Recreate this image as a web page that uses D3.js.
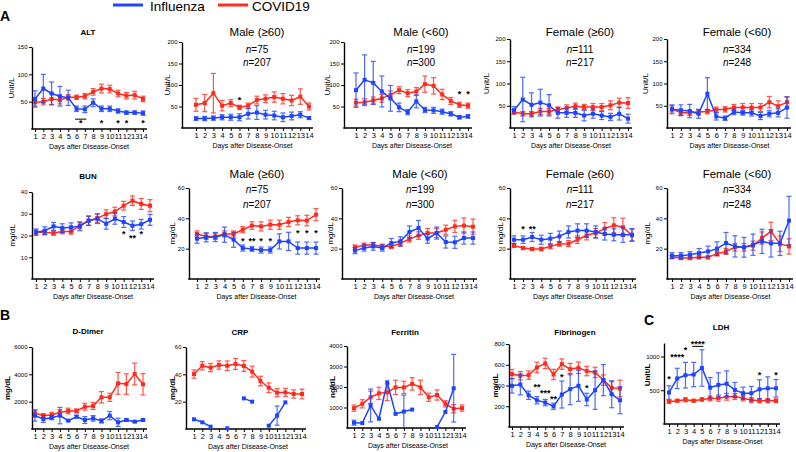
<!DOCTYPE html>
<html>
<head>
<meta charset="utf-8">
<script src="https://cdn.jsdelivr.net/npm/d3@7"></script>
<style>
  body { margin: 0; background: #fff; }
  text { font-family: "Liberation Sans", Arial, sans-serif; }
</style>
</head>
<body>
<div id="chart"></div>
<script>
var days = d3.range(1, 15);
var seriesNames = ["Influenza", "COVID19"];

/* ALT (Unit/L) */
var altFlu = [55, 74, 65, 60, 57, 37, 36, 48, 37, 37, 33, 30, 30, 29];
var altFluErr = [15, 26, 21, 18, 14, 5, 6, 7, 5, 5, 4, 3, 3, 4];
var altCov = [49, 50, 55, 53, 58, 58, 60, 68, 74, 73, 65, 61, 62, 55];
var altCovErr = [7, 6, 10, 7, 5, 4, 5, 6, 8, 7, 6, 6, 7, 5];
var altStars = [[6.5, "*", 9], [9, "*", 9], [11, "*", 9], [12, "*", 9], [14, "*", 9]];
var altBars = [[6, 7, 18]];

var altM60Flu = [22, 22, 23, 25, 25, 25, 33, 36, 31, 29, 25, 28, 31, 23];
var altM60FluErr = [4, 5, 5, 6, 7, 8, 12, 16, 10, 10, 10, 9, 7, 3];
var altM60Cov = [54, 58, 81, 52, 58, 48, 52, 65, 68, 72, 68, 64, 73, 50];
var altM60CovErr = [15, 20, 46, 12, 8, 5, 6, 9, 9, 12, 12, 12, 18, 8];
var altM60Stars = [[6, "*", 64]];

var altMyFlu = [88, 112, 105, 85, 69, 48, 37, 62, 42, 41, 38, 33, 25, 27];
var altMyFluErr = [40, 58, 50, 36, 30, 10, 6, 15, 6, 7, 6, 5, 4, 4];
var altMyCov = [59, 60, 64, 69, 77, 88, 81, 85, 102, 98, 78, 63, 54, 52];
var altMyCovErr = [8, 8, 8, 9, 9, 8, 8, 9, 19, 19, 12, 8, 6, 6];
var altMyStars = [[13, "*", 77], [14, "*", 77]];

var altF60Flu = [40, 64, 52, 57, 51, 34, 34, 34, 28, 32, 28, 25, 32, 21];
var altF60FluErr = [8, 50, 27, 30, 24, 12, 10, 10, 12, 10, 9, 8, 14, 10];
var altF60Cov = [36, 32, 32, 37, 37, 41, 45, 49, 47, 47, 47, 51, 57, 56];
var altF60CovErr = [5, 5, 5, 7, 7, 6, 7, 7, 6, 8, 8, 10, 10, 12];

var altFyFlu = [42, 40, 38, 32, 77, 26, 22, 36, 34, 34, 27, 32, 34, 46];
var altFyFluErr = [10, 12, 15, 10, 36, 8, 5, 6, 5, 7, 8, 7, 9, 24];
var altFyCov = [43, 34, 34, 36, 37, 41, 42, 46, 46, 46, 46, 58, 49, 58];
var altFyCovErr = [7, 6, 6, 5, 5, 6, 6, 7, 9, 9, 9, 13, 12, 12];

/* BUN (mg/dL) */
var bunFlu = [21.5, 22.2, 24.2, 23.4, 23.8, 24.2, 26.8, 27.7, 25.4, 27.7, 26.2, 24.5, 25.2, 27.2];
var bunFluErr = [1.5, 1.8, 1.8, 2, 2, 2, 2.2, 2.2, 2.5, 2.5, 2.5, 2.2, 2.2, 2.5];
var bunCov = [21.5, 21.4, 21.1, 21.8, 21.8, 24.6, 26.8, 28, 29.8, 31, 33.7, 36, 34.5, 33.7];
var bunCovErr = [1, 1, 1, 1, 1.2, 1.5, 2, 2, 2, 2, 2, 2.2, 2.5, 2.8];
var bunStars = [[11, "*", 20.5], [12, "**", 18.7], [13, "*", 20.5]];

var bunM60Flu = [26.6, 27.5, 27.7, 29.2, 25.9, 20.4, 19.8, 19.1, 19.1, 24.8, 24.8, 20.4, 20.4, 20.4];
var bunM60FluErr = [3, 3, 3, 5, 5, 2, 1.5, 2, 2, 5, 6, 4, 4, 4];
var bunM60Cov = [29.7, 28.1, 28.1, 29.7, 29.7, 32.5, 35.2, 34.7, 35.8, 35.8, 37.6, 38.7, 38.5, 42.4];
var bunM60CovErr = [2, 2, 2, 2, 2, 2, 2.5, 3, 3, 3, 3, 3, 3.5, 4];
var bunM60Stars = [[6, "*", 24.4], [7, "**", 24.4], [8, "*", 24.4], [9, "*", 24.4],
                   [12, "*", 29.7], [13, "*", 29.7], [14, "*", 29.7]];

var bunMyFlu = [18.7, 20.4, 21.5, 20.4, 23.7, 24.8, 31, 33.6, 26.6, 30.3, 24.4, 24.2, 27, 27];
var bunMyFluErr = [2, 2, 2.5, 2, 3, 3, 4, 5, 3, 4, 4, 4, 4, 4];
var bunMyCov = [20.9, 22.2, 22.6, 21.5, 21.5, 23.5, 26.4, 28.6, 30.3, 30.3, 32.5, 34.7, 35.2, 34.5];
var bunMyCovErr = [1.5, 1.5, 1.5, 1.5, 1.5, 2, 2, 2.5, 3, 3, 3, 4, 5, 5];

var bunF60Flu = [25.9, 25.9, 27.7, 25.9, 26.6, 28.1, 31, 31.9, 31.9, 31, 29.7, 29.2, 29.2, 29.2];
var bunF60FluErr = [2.5, 2.5, 3, 3, 3.5, 3.5, 4, 4.5, 4.5, 4, 4, 4, 5, 4];
var bunF60Cov = [22, 20.4, 19.8, 19.8, 21.5, 23.1, 23.3, 25.9, 28.8, 30.3, 33.2, 35.4, 34.1, 28.8];
var bunF60CovErr = [1.2, 1, 1, 1.2, 1.5, 1.5, 2, 2.5, 3, 3, 4, 5, 6, 4];
var bunF60Stars = [[2, "*", 32.3], [3, "**", 32.3]];

var bunFyFlu = [15.4, 15.4, 16, 17.1, 18.2, 20, 23.7, 21.5, 20.9, 22.6, 24.8, 23.5, 23.5, 38.5];
var bunFyFluErr = [2, 2, 2, 3, 3.5, 4.5, 7, 7, 6.5, 7, 8, 9, 8, 16];
var bunFyCov = [14.5, 13.8, 13.8, 14.3, 14.3, 16.7, 18.2, 20.9, 20.9, 22, 27, 31.4, 23.3, 21.5];
var bunFyCovErr = [1, 1, 1, 1, 1, 1.5, 2, 2.5, 2.5, 3, 4, 6, 5, 5];

/* B: coagulation / inflammation */
var ddFlu = [980, 730, 830, 980, 610, 900, 660, 780, 590, 980, 490, 660, 540, 660];
var ddFluErr = [400, 250, 150, 600, 50, 100, 250, 200, 150, 300, 300, 100, 50, 80];
var ddCov = [1150, 980, 1020, 1220, 1320, 1320, 1630, 1680, 2320, 2320, 3340, 3290, 4020, 3270];
var ddCovErr = [250, 150, 200, 200, 200, 150, 250, 250, 420, 300, 800, 750, 800, 780];

var crpFlu = [7.1, 4.9, 1.7, null, 0.5, null, 22.4, 20, null, 2.4, 9.8, 19.5, null, null];
var crpFluErr = [0, 0, 0, null, 0, null, 0, 0, null, 0, 7, 0, null, null];
var crpCov = [40.2, 46.3, 44.9, 46.8, 46.3, 47.6, 46.1, 42, 35.1, 30.2, 26.6, 26.8, 25.6, 25.6];
var crpCovErr = [3, 3, 3, 3, 3.5, 4, 4, 4, 3.5, 3.5, 3, 3, 3, 3.5];

var ferFlu = [260, 240, 1100, 450, 2230, 690, 800, 900, null, null, 50, 780, 1940, null];
var ferFluErr = [120, 0, 800, 0, 0, 0, 800, 0, null, null, 0, 0, 1650, null];
var ferCov = [970, 1180, 1500, 1690, 1740, 1980, 1980, 2150, 1980, 1500, 1610, 1180, 940, 970];
var ferCovErr = [150, 200, 300, 300, 400, 350, 300, 300, 350, 200, 250, 150, 200, 150];

var fibFlu = [397, 410, 306, 258, 235, 200, 313, 365, 397, 265, 355, 452, 316, 258];
var fibFluErr = [70, 100, 40, 35, 30, 30, 130, 150, 150, 60, 185, 150, 130, 130];
var fibCov = [510, 494, 500, 574, 613, 506, 606, 558, 571, 539, 526, 452, 377, 371];
var fibCovErr = [45, 40, 40, 50, 50, 50, 50, 55, 55, 45, 50, 50, 60, 80];
var fibStars = [[4, "**", 376], [5, "***", 318], [6, "**", 260], [7, "*", 472], [10, "*", 366]];

/* C: LDH */
var ldhFlu = [466, 675, 723, 733, 830, 539, 578, 597, 505, 456, 456, 515, 529, 529];
var ldhFluErr = [100, 150, 190, 180, 270, 150, 180, 190, 110, 90, 100, 140, 170, 130];
var ldhCov = [330, 345, 359, 345, 364, 379, 383, 403, 408, 383, 354, 345, 345, 345];
var ldhCovErr = [20, 20, 30, 20, 25, 35, 45, 50, 45, 40, 35, 30, 30, 25];
var ldhStars = [[1, "*", 662], [2, "****", 985], [3, "*", 1088], [4.5, "****", 1175], [12, "*", 720], [14, "*", 720]];
var ldhBars = [[4, 5, 1150]];

var blue = "#1f44ff";
var red = "#ff2a1c";

var svg = d3.select("#chart").append("svg")
  .attr("width", 796)
  .attr("height", 452);

/* panel layout */
var panels = [
  {flu: altFlu, fluErr: altFluErr, cov: altCov, covErr: altCovErr, stars: altStars, bars: altBars,
   title: "ALT", bold: true, ymax: 150, ticks: [50, 100, 150], ylab: "Unit/L",
   ax: 32, d1: 35, d14: 143, top: 47, bot: 129, tx: 88, ty: 33, ylx: 12},
  {flu: altM60Flu, fluErr: altM60FluErr, cov: altM60Cov, covErr: altM60CovErr, stars: altM60Stars,
   title: "Male (\u226560)", n: ["75", "207"], ymax: 200, ticks: [50, 100, 150, 200], ylab: "Unit/L",
   ax: 182, d1: 196, d14: 309, top: 42, bot: 128, tx: 257, ty: 33, ny: [50, 63], ylx: 168},
  {flu: altMyFlu, fluErr: altMyFluErr, cov: altMyCov, covErr: altMyCovErr, stars: altMyStars,
   title: "Male (<60)", n: ["199", "300"], ymax: 200, ticks: [50, 100, 150, 200], ylab: "Unit/L",
   ax: 344, d1: 356, d14: 468, top: 42, bot: 128, tx: 421, ty: 33, ny: [50, 63], ylx: 328},
  {flu: altF60Flu, fluErr: altF60FluErr, cov: altF60Cov, covErr: altF60CovErr,
   title: "Female (\u226560)", n: ["111", "217"], ymax: 200, ticks: [50, 100, 150, 200], ylab: "Unit/L",
   ax: 510, d1: 514, d14: 628, top: 39, bot: 128, tx: 580, ty: 33, ny: [50, 63], ylx: 487},
  {flu: altFyFlu, fluErr: altFyFluErr, cov: altFyCov, covErr: altFyCovErr,
   title: "Female (<60)", n: ["334", "248"], ymax: 200, ticks: [50, 100, 150, 200], ylab: "Unit/L",
   ax: 667, d1: 672, d14: 787, top: 39, bot: 128, tx: 737, ty: 33, ny: [50, 63], ylx: 646},

  {flu: bunFlu, fluErr: bunFluErr, cov: bunCov, covErr: bunCovErr, stars: bunStars,
   title: "BUN", bold: true, ymax: 40, ticks: [10, 20, 30, 40], ylab: "mg/dL",
   ax: 32, d1: 36, d14: 150, top: 192, bot: 279, tx: 88, ty: 177, ylx: 13},
  {flu: bunM60Flu, fluErr: bunM60FluErr, cov: bunM60Cov, covErr: bunM60CovErr, stars: bunM60Stars,
   title: "Male (\u226560)", n: ["75", "207"], ymax: 60, ticks: [20, 40, 60], ylab: "mg/dL",
   ax: 189, d1: 197, d14: 316, top: 188, bot: 279, tx: 257, ty: 175, ny: [190, 205], ylx: 173},
  {flu: bunMyFlu, fluErr: bunMyFluErr, cov: bunMyCov, covErr: bunMyCovErr,
   title: "Male (<60)", n: ["199", "300"], ymax: 60, ticks: [20, 40, 60], ylab: "mg/dL",
   ax: 342, d1: 355, d14: 473, top: 188, bot: 279, tx: 420, ty: 175, ny: [190, 205], ylx: 331},
  {flu: bunF60Flu, fluErr: bunF60FluErr, cov: bunF60Cov, covErr: bunF60CovErr, stars: bunF60Stars,
   title: "Female (\u226560)", n: ["111", "217"], ymax: 60, ticks: [20, 40, 60], ylab: "mg/dL",
   ax: 510, d1: 514, d14: 632, top: 188, bot: 279, tx: 580, ty: 175, ny: [190, 205], ylx: 501},
  {flu: bunFyFlu, fluErr: bunFyFluErr, cov: bunFyCov, covErr: bunFyCovErr,
   title: "Female (<60)", n: ["334", "248"], ymax: 60, ticks: [20, 40, 60], ylab: "mg/dL",
   ax: 667, d1: 672, d14: 789, top: 188, bot: 279, tx: 737, ty: 175, ny: [190, 205], ylx: 648},

  {flu: ddFlu, fluErr: ddFluErr, cov: ddCov, covErr: ddCovErr,
   title: "D-Dimer", bold: true, ymax: 6000, ticks: [2000, 4000, 6000], ylab: "mg/dL", ybold: true,
   ax: 32, d1: 35, d14: 143, top: 347, bot: 429, tx: 88, ty: 332, ylx: 8},
  {flu: crpFlu, fluErr: crpFluErr, cov: crpCov, covErr: crpCovErr,
   title: "CRP", bold: true, ymax: 60, ticks: [20, 40, 60], ylab: "mg/dL", ybold: true,
   ax: 186, d1: 194, d14: 302, top: 347, bot: 429, tx: 240, ty: 333, ylx: 173},
  {flu: ferFlu, fluErr: ferFluErr, cov: ferCov, covErr: ferCovErr,
   title: "Ferritin", bold: true, ymax: 4000, ticks: [1000, 2000, 3000, 4000], ylab: "ng/dL", ybold: true,
   ax: 347, d1: 354, d14: 462, top: 346, bot: 428, tx: 405, ty: 333, ylx: 333},
  {flu: fibFlu, fluErr: fibFluErr, cov: fibCov, covErr: fibCovErr, stars: fibStars,
   title: "Fibrinogen", bold: true, ymax: 800, ticks: [200, 400, 600, 800], ylab: "mg/dL", ybold: true,
   ax: 509, d1: 512, d14: 620, top: 344, bot: 427, tx: 575, ty: 333, ylx: 496},
  {flu: ldhFlu, fluErr: ldhFluErr, cov: ldhCov, covErr: ldhCovErr, stars: ldhStars, bars: ldhBars,
   title: "LDH", bold: true, ymax: 1200, ticks: [500, 1000], ylab: "Unit/L", ybold: true,
   ax: 664, d1: 669, d14: 776, top: 343, bot: 424, tx: 721, ty: 328, ylx: 648, yly: 375}
];

function drawSeries(g, x, y, vals, errs, color) {
  var pts = days.map((d, i) => ({day: d, v: vals[i], e: errs[i]}));
  var withErr = pts.filter(d => d.v != null && d.e > 0);

  var eb = g.append("g")
    .attr("stroke", color)
    .attr("stroke-width", 1.2)
    .attr("opacity", 0.8);
  withErr.forEach(function(d) {
    var lo = Math.max(0, d.v - d.e), hi = d.v + d.e;
    var cx = x(d.day);
    eb.append("line").attr("x1", cx).attr("x2", cx).attr("y1", y(lo)).attr("y2", y(hi));
    eb.append("line").attr("x1", cx - 2.5).attr("x2", cx + 2.5).attr("y1", y(hi)).attr("y2", y(hi));
    if (lo > 0) {
      eb.append("line").attr("x1", cx - 2.5).attr("x2", cx + 2.5).attr("y1", y(lo)).attr("y2", y(lo));
    }
  });

  var line = d3.line()
    .defined(d => d.v != null)
    .x(d => x(d.day))
    .y(d => y(d.v));

  g.append("path")
    .datum(pts)
    .attr("d", line)
    .attr("fill", "none")
    .attr("stroke", color)
    .attr("stroke-width", 1.5);

  g.selectAll(null)
    .data(pts.filter(d => d.v != null))
    .enter().append("rect")
    .attr("x", d => x(d.day) - 2)
    .attr("y", d => y(d.v) - 2)
    .attr("width", 4)
    .attr("height", 4)
    .attr("fill", color);
}

function drawPanel(p) {
  var x = d3.scaleLinear().domain([1, 14]).range([p.d1, p.d14]);
  var y = d3.scaleLinear().domain([0, p.ymax]).range([p.bot, p.top]);
  var g = svg.append("g");

  /* y axis */
  var ya = g.append("g")
    .attr("transform", `translate(${p.ax},0)`)
    .call(d3.axisLeft(y).tickValues(p.ticks).tickFormat(d3.format("d"))
      .tickSize(3).tickSizeOuter(0).tickPadding(1.5));
  ya.select(".domain").attr("stroke-width", 1.4);
  ya.selectAll("text").attr("font-size", "6px").attr("font-family", "Liberation Sans");

  /* x axis */
  var xa = g.append("g")
    .attr("transform", `translate(0,${p.bot})`)
    .call(d3.axisBottom(x).tickValues(days).tickSize(3).tickPadding(1.5));
  xa.select(".domain").remove();
  xa.selectAll("text").attr("font-size", "7.5px").attr("font-family", "Liberation Sans");
  g.append("line")
    .attr("x1", p.ax - 0.7).attr("x2", p.d14 + 4)
    .attr("y1", p.bot).attr("y2", p.bot)
    .attr("stroke", "#000").attr("stroke-width", 1.4);

  g.append("text")
    .attr("x", (p.d1 + p.d14) / 2)
    .attr("y", p.bot + 18)
    .attr("text-anchor", "middle")
    .attr("dominant-baseline", "middle")
    .attr("font-size", "7px")
    .text("Days after Disease-Onset");

  g.append("text")
    .attr("transform", `translate(${p.ylx},${p.yly || (p.top + p.bot) / 2}) rotate(-90)`)
    .attr("text-anchor", "middle")
    .attr("dominant-baseline", "middle")
    .attr("font-size", "8px")
    .attr("font-weight", p.ybold ? "bold" : "normal")
    .text(p.ylab);

  /* titles */
  g.append("text")
    .attr("x", p.tx)
    .attr("y", p.ty)
    .attr("text-anchor", "middle")
    .attr("dominant-baseline", "middle")
    .attr("font-size", p.bold ? "8px" : "11.5px")
    .attr("font-weight", p.bold ? "bold" : "normal")
    .text(p.title);

  if (p.n) {
    p.n.forEach(function(v, i) {
      var t = g.append("text")
        .attr("x", p.tx)
        .attr("y", p.ny[i])
        .attr("text-anchor", "middle")
        .attr("dominant-baseline", "middle")
        .attr("font-size", "10px");
      t.append("tspan").attr("font-style", "italic").text("n");
      t.append("tspan").text("=" + v);
    });
  }

  drawSeries(g, x, y, p.cov, p.covErr, red);
  drawSeries(g, x, y, p.flu, p.fluErr, blue);

  /* significance marks */
  (p.stars || []).forEach(function(s) {
    g.append("text")
      .attr("x", x(s[0]))
      .attr("y", y(s[2]))
      .attr("text-anchor", "middle")
      .attr("dominant-baseline", "middle")
      .attr("font-size", "9px")
      .attr("font-weight", "bold")
      .text(s[1]);
  });
  (p.bars || []).forEach(function(b) {
    g.append("line")
      .attr("x1", x(b[0]) - 1.5).attr("x2", x(b[1]) + 1.5)
      .attr("y1", y(b[2])).attr("y2", y(b[2]))
      .attr("stroke", "#000").attr("stroke-width", 1);
  });
}

panels.forEach(drawPanel);

/* panel letters */
[["A", 0, 21], ["B", 0, 320], ["C", 644, 325]].forEach(function(l) {
  svg.append("text")
    .attr("x", l[1]).attr("y", l[2])
    .attr("font-size", "14px")
    .attr("font-weight", "bold")
    .text(l[0]);
});

/* legend */
var legend = svg.append("g");
[[blue, 113, 150], [red, 218, 252]].forEach(function(l, i) {
  legend.append("line")
    .attr("x1", l[1]).attr("x2", l[1] + 30)
    .attr("y1", 5).attr("y2", 5)
    .attr("stroke", l[0]).attr("stroke-width", 3);
  legend.append("text")
    .attr("x", l[2]).attr("y", 10.5)
    .attr("font-size", "13.5px")
    .text(seriesNames[i]);
});
</script>
</body>
</html>
